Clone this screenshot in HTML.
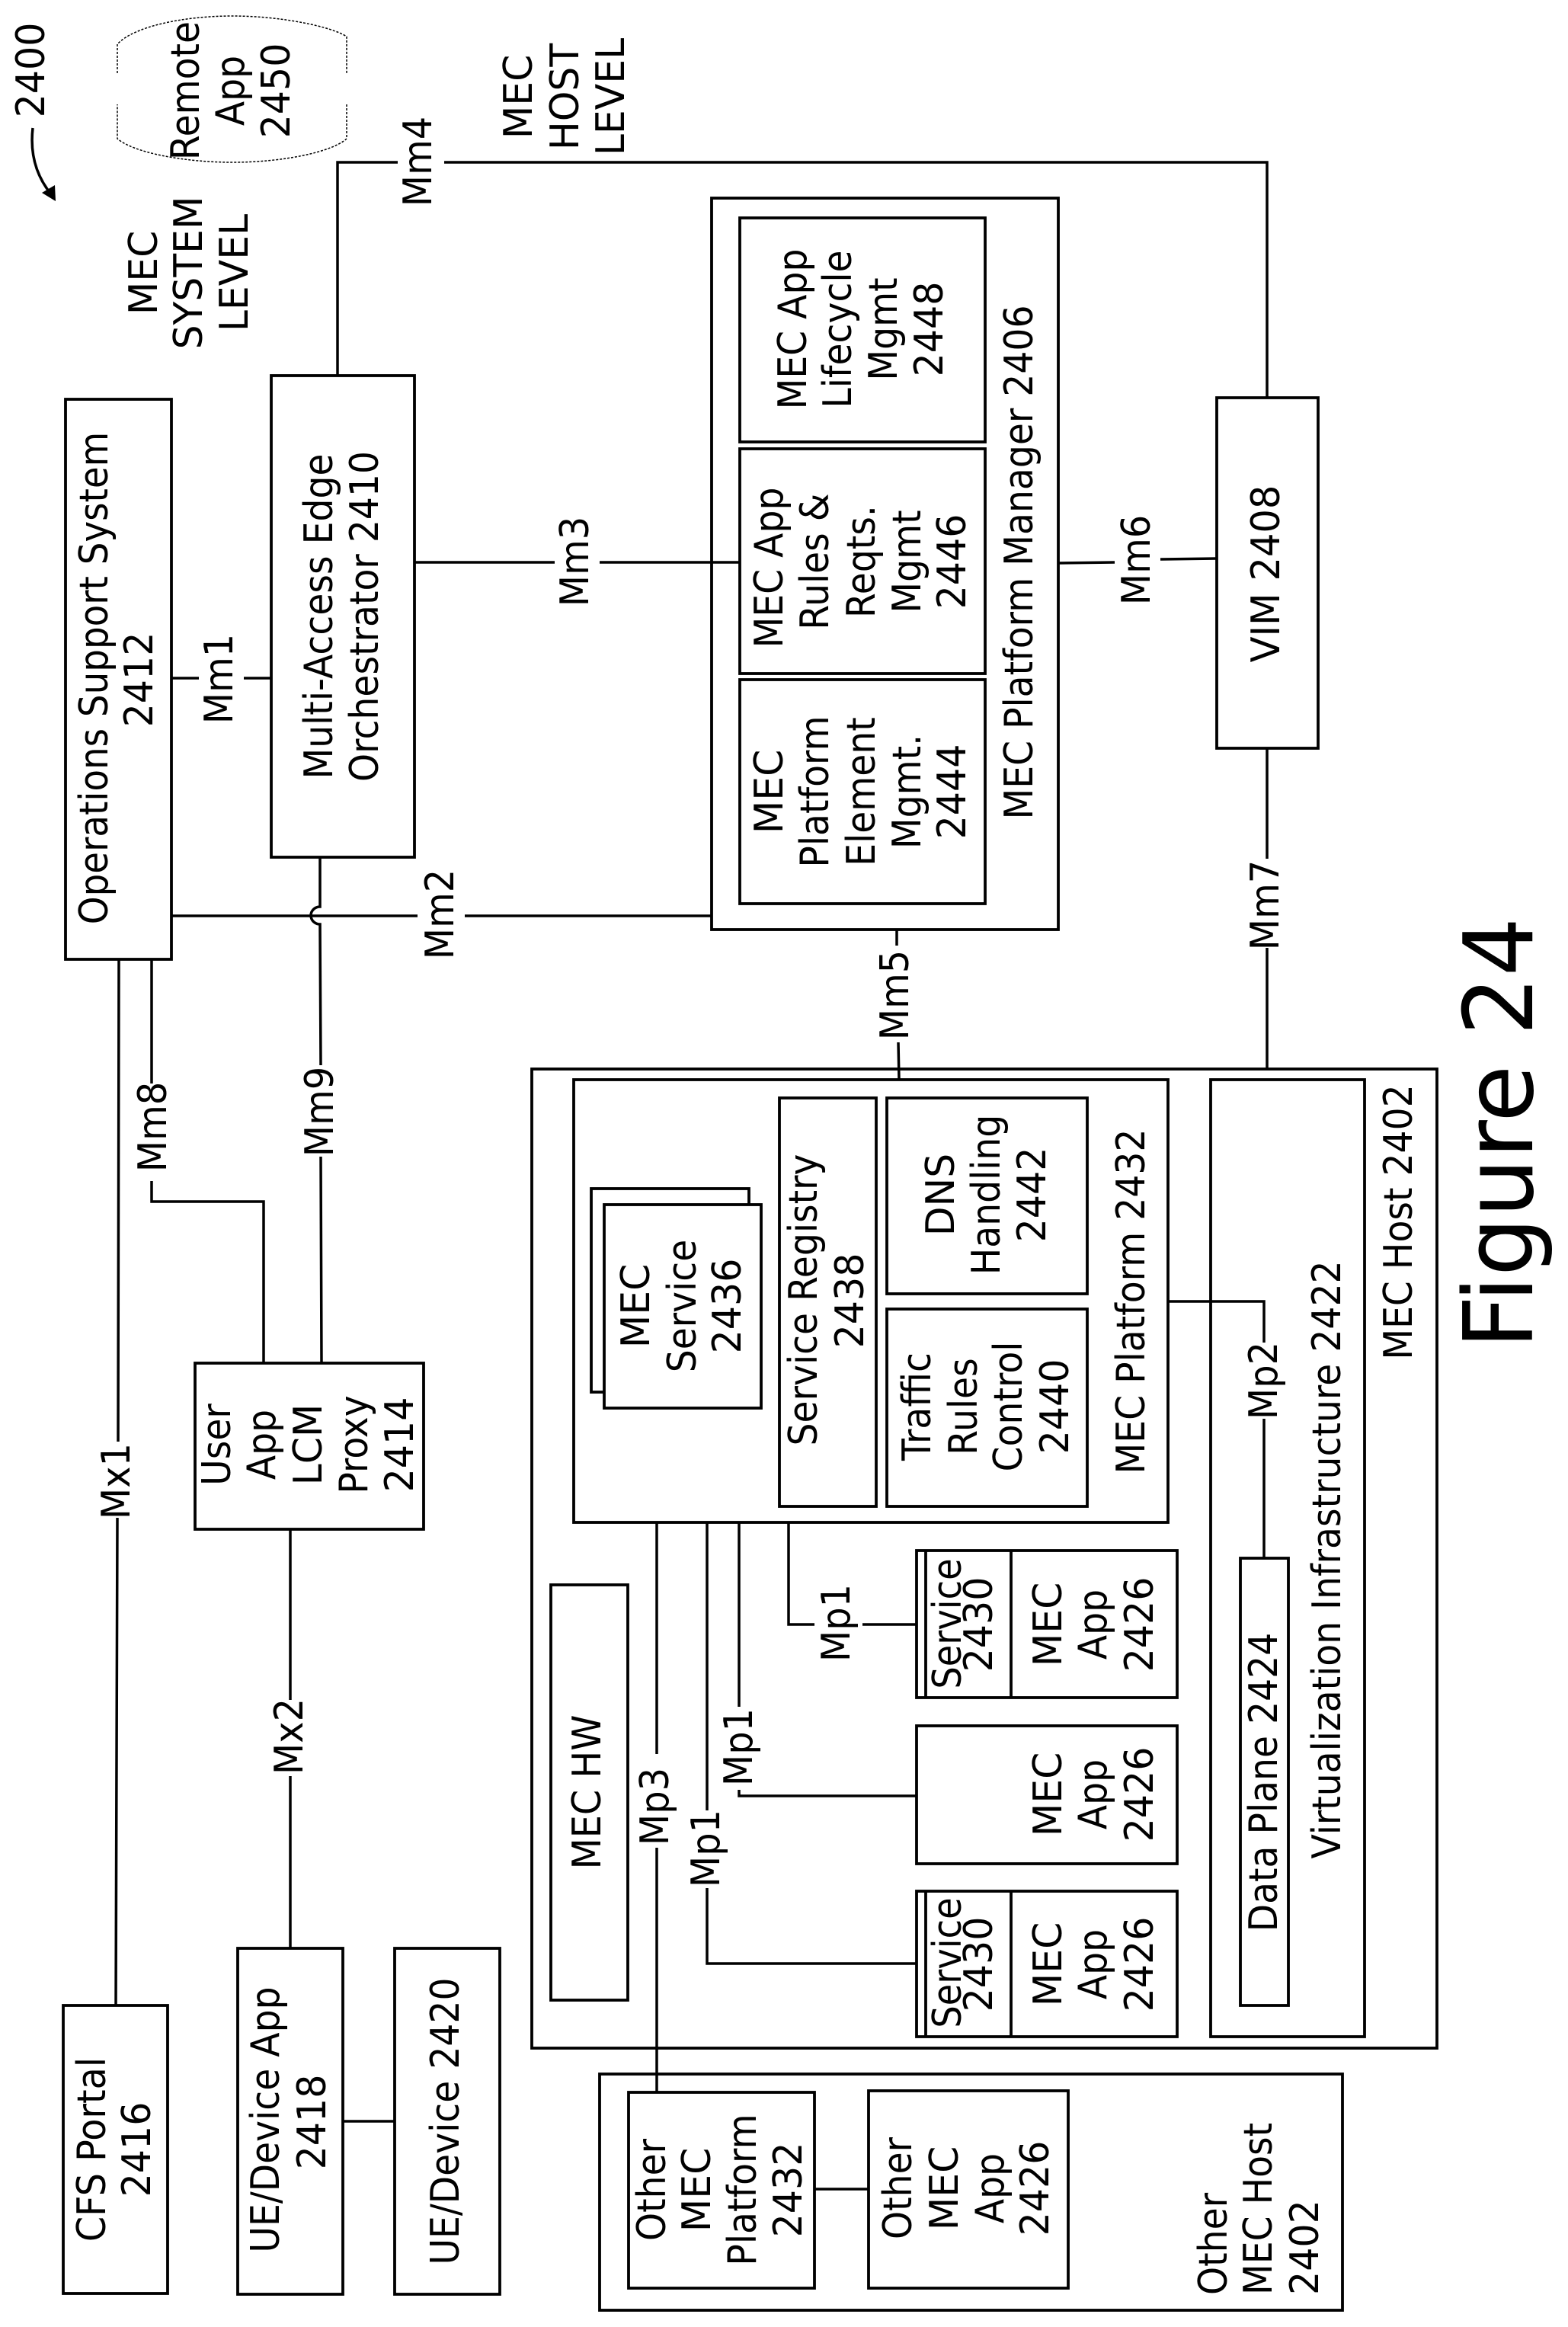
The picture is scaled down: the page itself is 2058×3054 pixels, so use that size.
<!DOCTYPE html>
<html><head><meta charset="utf-8"><style>
html,body{margin:0;padding:0;background:#fff}
svg{display:block}
text{font-family:"DejaVu Sans",sans-serif;font-size:45px;fill:#000;text-anchor:middle}
.l{fill:none;stroke:#000;stroke-width:3.5}
.b{fill:none;stroke:#000;stroke-width:3.8}
.w{fill:#fff;stroke:#000;stroke-width:3.8}
</style></head><body>
<svg xmlns="http://www.w3.org/2000/svg" width="2058" height="3054" viewBox="0 0 2058 3054">
<!-- connectors -->
<path class="l" d="M443 493V213H522M583 213H1663V522"/>
<path class="l" d="M225 890H261M320 890H356"/>
<path class="l" d="M544 738H728M787 738H971"/>
<path class="l" d="M1389 739L1463 738M1523 734L1597 733"/>
<path class="l" d="M225 1202H548M610 1202H934"/>
<path class="l" d="M420 1125V1190A12 11.5 0 0 0 420 1213L421 1398M421 1518L422 1789"/>
<path class="l" d="M199 1259V1422M199 1550V1577H346V1789"/>
<path class="l" d="M156 1259L155 1892M154 1992L152 2632"/>
<path class="l" d="M381 2007V2231M381 2331V2557"/>
<path class="l" d="M450 2784H518"/>
<path class="l" d="M1177 1220V1241M1179 1368L1180 1417"/>
<path class="l" d="M1663 982V1127M1663 1244V1403"/>
<path class="l" d="M1533 1708H1659V1762M1659 1862V2045"/>
<path class="l" d="M862 1998V2302M862 2425V2746"/>
<path class="l" d="M928 1998V2376M928 2478V2577H1203"/>
<path class="l" d="M970 1998V2240M970 2349V2357H1203"/>
<path class="l" d="M1035 1998V2132H1069M1132 2132H1203"/>
<path class="l" d="M1069 2873H1140"/>
<!-- ref arrow -->
<path class="l" d="M43 168C39 203 48 232 68 256"/>
<polygon points="73,264 55,253 72,243"/>
<!-- remote app -->
<path d="M154 96V58C175 35 240 21 305 21S435 35 455 48V96M455 137V182C435 200 370 213 305 213S175 200 154 182V137" fill="none" stroke="#000" stroke-width="1.5" stroke-dasharray="3 2"/>
<!-- boxes -->
<rect class="b" x="86" y="524" width="139" height="735"/>
<rect class="b" x="356" y="493" width="188" height="632"/>
<rect class="b" x="934" y="260" width="455" height="960"/>
<rect class="b" x="971" y="286" width="322" height="294"/>
<rect class="b" x="971" y="589" width="322" height="295"/>
<rect class="b" x="971" y="892" width="322" height="294"/>
<rect class="b" x="1597" y="522" width="133" height="460"/>
<rect class="b" x="256" y="1789" width="300" height="218"/>
<rect class="b" x="83" y="2632" width="137" height="378"/>
<rect class="b" x="312" y="2557" width="138" height="454"/>
<rect class="b" x="518" y="2557" width="138" height="454"/>
<rect class="b" x="698" y="1403" width="1188" height="1285"/>
<rect class="b" x="753" y="1417" width="780" height="581"/>
<rect class="b" x="776" y="1560" width="207" height="267"/>
<rect class="w" x="793" y="1581" width="206" height="267"/>
<rect class="b" x="1023" y="1441" width="127" height="536"/>
<rect class="b" x="1164" y="1441" width="263" height="257"/>
<rect class="b" x="1164" y="1718" width="263" height="259"/>
<rect class="b" x="1589" y="1417" width="202" height="1256"/>
<rect class="b" x="1628" y="2045" width="63" height="587"/>
<rect class="b" x="723" y="2080" width="101" height="545"/>
<rect class="b" x="1203" y="2035" width="342" height="193"/>
<path class="b" d="M1215 2035V2228M1327 2035V2228"/>
<rect class="b" x="1203" y="2265" width="342" height="181"/>
<rect class="b" x="1203" y="2482" width="342" height="191"/>
<path class="b" d="M1215 2482V2673M1327 2482V2673"/>
<rect class="b" x="787" y="2722" width="975" height="310"/>
<rect class="b" x="825" y="2746" width="244" height="257"/>
<rect class="b" x="1140" y="2744" width="262" height="259"/>
<!-- labels -->
<text transform="translate(58,92) rotate(-90) scale(1.09,1.14)">2400</text>
<text transform="translate(261,119) rotate(-90) scale(1.05,1.14)">Remote</text>
<text transform="translate(320,119) rotate(-90) scale(1.05,1.14)">App</text>
<text transform="translate(380,119) rotate(-90) scale(1.09,1.14)">2450</text>
<text transform="translate(566,212) rotate(-90) scale(1.065,1.14)">Mm4</text>
<text transform="translate(698,127) rotate(-90) scale(1.12,1.14)">MEC</text>
<text transform="translate(759,127) rotate(-90) scale(1.12,1.14)">HOST</text>
<text transform="translate(819,127) rotate(-90) scale(1.12,1.14)">LEVEL</text>
<text transform="translate(206,358) rotate(-90) scale(1.12,1.14)">MEC</text>
<text transform="translate(265,358) rotate(-90) scale(1.12,1.14)">SYSTEM</text>
<text transform="translate(325,358) rotate(-90) scale(1.12,1.14)">LEVEL</text>
<text transform="translate(141,890) rotate(-90) scale(1.04,1.14)">Operations Support System</text>
<text transform="translate(200,892) rotate(-90) scale(1.09,1.14)">2412</text>
<text transform="translate(436,809) rotate(-90) scale(1.05,1.14)">Multi-Access Edge</text>
<text transform="translate(496,809) rotate(-90) scale(1.05,1.14)">Orchestrator 2410</text>
<text transform="translate(305,891) rotate(-90) scale(1.065,1.14)">Mm1</text>
<text transform="translate(772,737) rotate(-90) scale(1.065,1.14)">Mm3</text>
<text transform="translate(1058,432) rotate(-90) scale(1.05,1.14)">MEC App</text>
<text transform="translate(1117,432) rotate(-90) scale(1.05,1.14)">Lifecycle</text>
<text transform="translate(1177,432) rotate(-90) scale(1.05,1.14)">Mgmt</text>
<text transform="translate(1237,432) rotate(-90) scale(1.09,1.14)">2448</text>
<text transform="translate(1027,745) rotate(-90) scale(1.05,1.14)">MEC App</text>
<text transform="translate(1087,737) rotate(-90) scale(1.05,1.14)">Rules &amp;</text>
<text transform="translate(1148,737) rotate(-90) scale(1.05,1.14)">Reqts.</text>
<text transform="translate(1208,737) rotate(-90) scale(1.05,1.14)">Mgmt</text>
<text transform="translate(1267,737) rotate(-90) scale(1.09,1.14)">2446</text>
<text transform="translate(1027,1039) rotate(-90) scale(1.12,1.14)">MEC</text>
<text transform="translate(1087,1039) rotate(-90) scale(1.05,1.14)">Platform</text>
<text transform="translate(1148,1039) rotate(-90) scale(1.05,1.14)">Element</text>
<text transform="translate(1208,1039) rotate(-90) scale(1.05,1.14)">Mgmt.</text>
<text transform="translate(1267,1039) rotate(-90) scale(1.09,1.14)">2444</text>
<text transform="translate(1355,738) rotate(-90) scale(1.05,1.14)">MEC Platform Manager 2406</text>
<text transform="translate(1509,735) rotate(-90) scale(1.065,1.14)">Mm6</text>
<text transform="translate(1679,753) rotate(-90) scale(1.1,1.14)">VIM 2408</text>
<text transform="translate(595,1200) rotate(-90) scale(1.065,1.14)">Mm2</text>
<text transform="translate(218,1479) rotate(-90) scale(1.065,1.14)">Mm8</text>
<text transform="translate(437,1459) rotate(-90) scale(1.065,1.14)">Mm9</text>
<text transform="translate(852,1714) rotate(-90) scale(1.12,1.14)">MEC</text>
<text transform="translate(913,1714) rotate(-90) scale(1.05,1.14)">Service</text>
<text transform="translate(972,1714) rotate(-90) scale(1.09,1.14)">2436</text>
<text transform="translate(170,1944) rotate(-90) scale(1.065,1.14)">Mx1</text>
<text transform="translate(302,1896) rotate(-90) scale(1.05,1.14)">User</text>
<text transform="translate(361,1896) rotate(-90) scale(1.05,1.14)">App</text>
<text transform="translate(422,1896) rotate(-90) scale(1.12,1.14)">LCM</text>
<text transform="translate(482,1896) rotate(-90) scale(1.05,1.14)">Proxy</text>
<text transform="translate(542,1896) rotate(-90) scale(1.09,1.14)">2414</text>
<text transform="translate(1072,1706) rotate(-90) scale(1.05,1.14)">Service Registry</text>
<text transform="translate(1133,1707) rotate(-90) scale(1.09,1.14)">2438</text>
<text transform="translate(1252,1568) rotate(-90) scale(1.12,1.14)">DNS</text>
<text transform="translate(1312,1568) rotate(-90) scale(1.05,1.14)">Handling</text>
<text transform="translate(1372,1568) rotate(-90) scale(1.09,1.14)">2442</text>
<text transform="translate(1221,1846) rotate(-90) scale(1.05,1.14)">Traffic</text>
<text transform="translate(1282,1846) rotate(-90) scale(1.05,1.14)">Rules</text>
<text transform="translate(1341,1846) rotate(-90) scale(1.05,1.14)">Control</text>
<text transform="translate(1402,1846) rotate(-90) scale(1.09,1.14)">2440</text>
<text transform="translate(1502,1708) rotate(-90) scale(1.05,1.14)">MEC Platform 2432</text>
<text transform="translate(1853,1604) rotate(-90) scale(1.05,1.14)">MEC Host 2402</text>
<text transform="translate(1759,2047) rotate(-90) scale(1.05,1.14)">Virtualization Infrastructure 2422</text>
<text transform="translate(1676,1812) rotate(-90) scale(1.065,1.14)">Mp2</text>
<text transform="translate(1192,1306) rotate(-90) scale(1.065,1.14)">Mm5</text>
<text transform="translate(1678,1188) rotate(-90) scale(1.065,1.14)">Mm7</text>
<text transform="translate(2011,1487) rotate(-90) scale(1,1.03)" style="font-size:122px">Figure 24</text>
<text transform="translate(788,2352) rotate(-90) scale(1.06,1.14)">MEC HW</text>
<text transform="translate(397,2279) rotate(-90) scale(1.065,1.14)">Mx2</text>
<text transform="translate(138,2821) rotate(-90) scale(1.06,1.14)">CFS Portal</text>
<text transform="translate(197,2821) rotate(-90) scale(1.09,1.14)">2416</text>
<text transform="translate(366,2782) rotate(-90) scale(1.05,1.14)">UE/Device App</text>
<text transform="translate(427,2785) rotate(-90) scale(1.09,1.14)">2418</text>
<text transform="translate(602,2784) rotate(-90) scale(1.05,1.14)">UE/Device 2420</text>
<text transform="translate(877,2371) rotate(-90) scale(1.065,1.14)">Mp3</text>
<text transform="translate(944,2426) rotate(-90) scale(1.065,1.14)">Mp1</text>
<text transform="translate(987,2293) rotate(-90) scale(1.065,1.14)">Mp1</text>
<text transform="translate(1115,2130) rotate(-90) scale(1.065,1.14)">Mp1</text>
<text transform="translate(1261,2131) rotate(-90) scale(1.03,1.14)">Service</text>
<text transform="translate(1302,2132) rotate(-90) scale(1.09,1.14)">2430</text>
<text transform="translate(1393,2132) rotate(-90) scale(1.12,1.14)">MEC</text>
<text transform="translate(1452,2132) rotate(-90) scale(1.05,1.14)">App</text>
<text transform="translate(1513,2132) rotate(-90) scale(1.09,1.14)">2426</text>
<text transform="translate(1393,2355) rotate(-90) scale(1.12,1.14)">MEC</text>
<text transform="translate(1452,2355) rotate(-90) scale(1.05,1.14)">App</text>
<text transform="translate(1513,2355) rotate(-90) scale(1.09,1.14)">2426</text>
<text transform="translate(1261,2576) rotate(-90) scale(1.03,1.14)">Service</text>
<text transform="translate(1302,2578) rotate(-90) scale(1.09,1.14)">2430</text>
<text transform="translate(1393,2578) rotate(-90) scale(1.12,1.14)">MEC</text>
<text transform="translate(1452,2578) rotate(-90) scale(1.05,1.14)">App</text>
<text transform="translate(1513,2578) rotate(-90) scale(1.09,1.14)">2426</text>
<text transform="translate(1676,2339) rotate(-90) scale(1.05,1.14)">Data Plane 2424</text>
<text transform="translate(873,2874) rotate(-90) scale(1.05,1.14)">Other</text>
<text transform="translate(932,2874) rotate(-90) scale(1.12,1.14)">MEC</text>
<text transform="translate(992,2874) rotate(-90) scale(1.05,1.14)">Platform</text>
<text transform="translate(1052,2874) rotate(-90) scale(1.09,1.14)">2432</text>
<text transform="translate(1196,2872) rotate(-90) scale(1.05,1.14)">Other</text>
<text transform="translate(1257,2872) rotate(-90) scale(1.12,1.14)">MEC</text>
<text transform="translate(1317,2872) rotate(-90) scale(1.05,1.14)">App</text>
<text transform="translate(1376,2872) rotate(-90) scale(1.09,1.14)">2426</text>
<text style="text-anchor:start" transform="translate(1610,3012) rotate(-90) scale(1.05,1.14)">Other</text>
<text style="text-anchor:start" transform="translate(1669,3012) rotate(-90) scale(1.05,1.14)">MEC Host</text>
<text style="text-anchor:start" transform="translate(1730,3012) rotate(-90) scale(1.09,1.14)">2402</text>
</svg>
</body></html>
